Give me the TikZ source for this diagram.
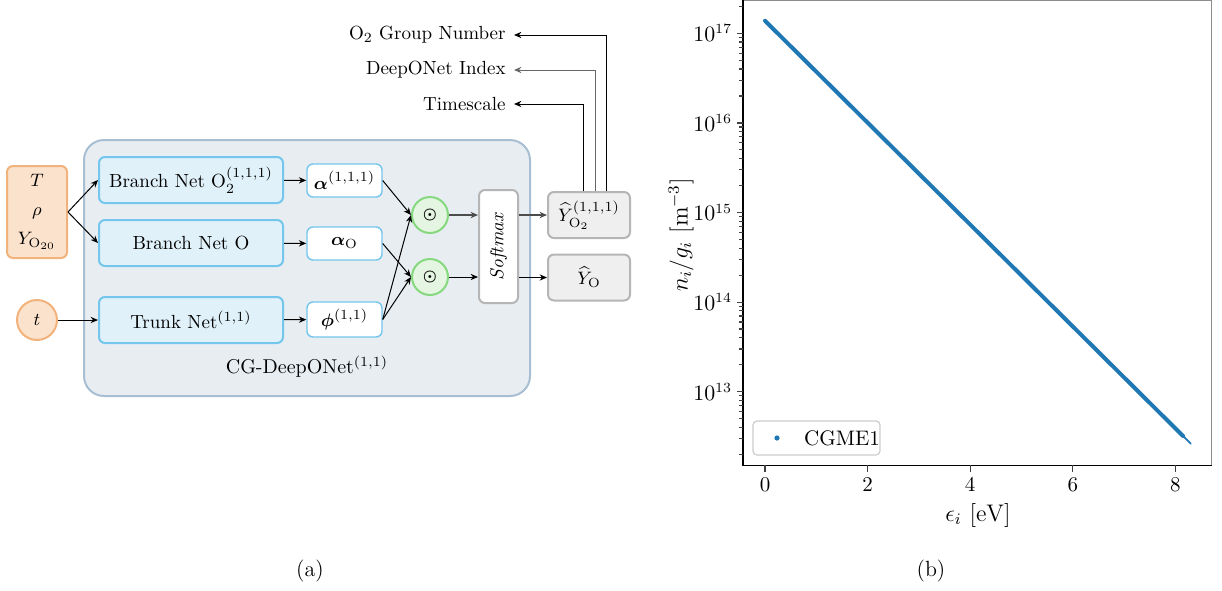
\documentclass[tikz,border=0pt]{standalone}
\usepackage{amsmath,amssymb,bm,graphicx}
\usepackage{fontspec}
\usepackage{xcolor}
\definecolor{cgin}{HTML}{FBE2CC}
\definecolor{cginline}{HTML}{F2B27C}
\definecolor{cgback}{HTML}{E8EDF2}
\definecolor{cgbackline}{HTML}{A8BED2}
\definecolor{cgnet}{HTML}{E0F1FA}
\definecolor{cgnetline}{HTML}{74C6EC}
\definecolor{cgprod}{HTML}{E4F5E1}
\definecolor{cgprodline}{HTML}{86D97E}
\definecolor{cgout}{HTML}{EFEFEF}
\definecolor{cgoutline}{HTML}{B5B5B5}
\definecolor{mplblue}{HTML}{1F77B4}
\usepackage{tikz}
\usetikzlibrary{arrows.meta,positioning}

\begin{document}
\begin{tikzpicture}[x=0.5pt,y=-0.5pt,
  font=\fontsize{9.5}{11.5}\selectfont,
  inbox/.style={draw=cginline,fill=cgin,line width=1pt,rounded corners=3pt,align=center,inner sep=0pt},
  net/.style={draw=cgnetline,fill=cgnet,line width=1pt,rounded corners=3pt,minimum width=92pt,minimum height=23pt,inner sep=0pt},
  coef/.style={draw=cgnetline,fill=white,line width=0.7pt,rounded corners=3pt,minimum width=37.5pt,inner sep=0pt},
  prod/.style={circle,draw=cgprodline,fill=cgprod,line width=1pt,minimum size=18pt,inner sep=0pt,font=\fontsize{7.5}{8}\selectfont},
  outb/.style={draw=cgoutline,fill=cgout,line width=1pt,rounded corners=3pt,minimum width=41pt,minimum height=23pt,inner sep=0pt},
  ar/.style={-{Stealth[length=1.3mm,width=1.1mm]},line width=0.5pt},
  tag/.style={anchor=east,inner xsep=4pt},
  tick/.style={line width=0.6pt,black!75},
  axfont/.style={font=\fontsize{10.5}{12}\selectfont,inner sep=0pt}]
\useasboundingbox (0,0) rectangle (1222,590);
\node[draw=cgbackline,fill=cgback,line width=1pt,rounded corners=10pt,minimum width=223pt,minimum height=128pt] (cg) at (307,268) {};
\node[font=\fontsize{10}{12}\selectfont] (cglab) at (307,367) {CG-DeepONet$^{(1,1)}$};
\node[inbox,minimum width=30pt,minimum height=46pt] (inp) at (37,212) {$T$\\[3pt]$\rho$\\[3pt]$Y_{\mathrm{O}_{20}}$};
\node[circle,draw=cginline,fill=cgin,line width=1pt,minimum size=20pt,inner sep=0pt] (tin) at (37,320) {$t$};
\node[net] (bro2) at (191,180) {Branch Net $\mathrm{O}_2^{(1,1,1)}$};
\node[net] (bro) at (191,243) {Branch Net O};
\node[net] (trunk) at (191,320) {Trunk Net$^{(1,1)}$};
\node[coef,minimum height=16.5pt] (alo2) at (344.5,180.5) {$\bm{\alpha}^{(1,1,1)}$};
\node[coef,minimum height=16.5pt] (alo) at (344.5,243.5) {$\bm{\alpha}_{\mathrm{O}}$};
\node[coef,minimum height=17.5pt] (phit) at (344.5,319.5) {$\bm{\phi}^{(1,1)}$};
\node[prod] (pro2) at (430,215) {$\bm{\odot}$};
\node[prod] (pro) at (430,277) {$\bm{\odot}$};
\node[draw=cgoutline,fill=white,line width=1pt,rounded corners=3pt,minimum width=19.5pt,minimum height=56.5pt,inner sep=0pt] (soft) at (498.5,246.5) {\rotatebox{90}{\textit{Softmax}}};
\node[outb] (yo2) at (589,215) {$\widehat{Y}_{\mathrm{O}_2}^{(1,1,1)}$};
\node[outb] (yo) at (589,277.5) {$\widehat{Y}_{\mathrm{O}}$};
\node[tag] (grp) at (514,35) {O$_2$ Group Number};
\node[tag] (idx) at (514,70) {DeepONet Index};
\node[tag] (tsc) at (514,104) {Timescale};
\draw[ar] (inp.east) -- (bro2.west);
\draw[ar] (inp.east) -- (bro.west);
\draw[ar] (tin) -- (trunk);
\draw[ar] (bro2) -- (alo2);
\draw[ar] (bro) -- (alo);
\draw[ar] (trunk) -- (phit);
\draw[ar] (alo2.east) -- (pro2.west);
\draw[ar] (phit.east) -- (pro2.west);
\draw[ar] (alo.east) -- (pro.west);
\draw[ar] (phit.east) -- (pro.west);
\draw[ar,black!70,line width=0.8pt] (pro2) -- (pro2 -| soft.west);
\draw[ar] (pro) -- (pro -| soft.west);
\draw[ar,black!70,line width=0.8pt] (yo2 -| soft.east) -- (yo2);
\draw[ar] (yo -| soft.east) -- (yo);
\draw[ar] ([xshift=-3pt]yo2.north) |- (tsc.east);
\draw[ar,black!60] ([xshift=3pt]yo2.north) |- (idx.east);
\draw[ar] ([xshift=8.5pt]yo2.north) |- (grp.east);
\node[font=\fontsize{11}{13}\selectfont] (capa) at (310,571) {(a)};
\node[font=\fontsize{11}{13}\selectfont] (capb) at (931,571) {(b)};
\begin{scope}[shift={(765,33.3)},x=25.65pt,y=44.8pt]
\draw[black!45,line width=0.6pt] (-0.43,0.37) -- (8.71,0.37) -- (8.71,-4.82);
\draw[line width=0.6pt] (8.71,-4.82) -- (-0.43,-4.82) -- (-0.43,0.37);
\foreach \d in {12,...,16}
  \foreach \k in {2,...,9}
    \draw[tick] (-0.43,{\d-17+log10(\k)}) -- ++(-1.8pt,0);
\draw[tick] (-0.43,{log10(2)}) -- ++(-1.8pt,0);
\foreach \e in {13,...,17}{
  \draw[tick] (-0.43,{\e-17}) -- ++(-3.2pt,0);
  \node[axfont,anchor=east,xshift=-5.2pt] (ytick\e) at (-0.43,{\e-17}) {$10^{\e}$};
}
\foreach \v in {0,2,...,8}{
  \draw[tick] (\v,-4.82) -- ++(0,-3.2pt);
  \node[axfont,anchor=north,yshift=-6pt] (xtick\v) at (\v,-4.82) {\v};
}
\draw[mplblue,line width=2pt,line cap=round] (0,0.14) -- (8.15,{0.14-0.5687*8.15});
\draw[mplblue,line width=0.9pt,line cap=round] (8.15,{0.14-0.5687*8.15}) -- (8.3,{0.14-0.5687*8.3});
\end{scope}
\node[draw=black!20,fill=white,line width=0.6pt,rounded corners=2pt,minimum width=63.5pt,minimum height=17pt,inner sep=0pt] (leg) at (816.5,438) {};
\node[circle,fill=mplblue,minimum size=2.6pt,inner sep=0pt] (legdot) at (777,438) {};
\node[axfont] (legtxt) at (842,438) {CGME1};
\node[rotate=90,font=\fontsize{12}{14}\selectfont] (ylab) at (681,235) {$n_i/g_i\ [\mathrm{m}^{-3}]$};
\node[font=\fontsize{12}{14}\selectfont] (xlab) at (978,515) {$\epsilon_i\ [\mathrm{eV}]$};
\end{tikzpicture}
\end{document}
